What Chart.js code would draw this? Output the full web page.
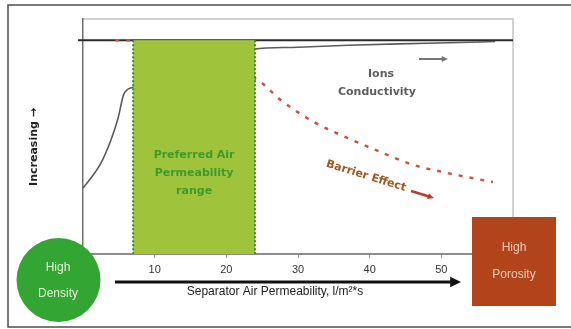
<!DOCTYPE html>
<html>
<head>
<meta charset="utf-8">
<script src="https://cdn.jsdelivr.net/npm/chart.js@4.4.1/dist/chart.umd.min.js"></script>
<style>
  html, body { margin: 0; padding: 0; background: #ffffff; }
  #wrap { width: 571px; height: 329px; position: relative; }
</style>
</head>
<body>
<div id="wrap"><canvas id="chart" width="571" height="329"></canvas></div>
<script>
// Separator air permeability (l/m²*s) on the x axis, relative level on the y axis
const xTickValues = [10, 20, 30, 40, 50];

// Ions conductivity curve
const ionsX = [0, 2.5, 3.9, 4.9, 5.7, 7, 12, 18, 23.8, 30, 37, 44, 51, 57.5];
const ionsY = [28, 38.7, 48.5, 57.9, 68, 71, 78, 84, 87.2, 88, 88.8, 89.4, 89.9, 90.4];

// Barrier effect curve
const barrierX = [4.5, 6, 10, 16, 24.4, 27.6, 32.2, 36.9, 41.5, 46.1, 50.8, 57.2];
const barrierY = [91, 91, 88, 82, 74, 65.5, 56.2, 49.4, 43.4, 37.9, 34.5, 30.6];

// Upper reference level
const topLineX = [-0.7, 60];
const topLineY = [91, 91];

// Preferred air permeability range
const preferredRange = [7, 24];
const preferredTop = 91;

const toPoints = (xs, ys) => xs.map((x, i) => ({ x: x, y: ys[i] }));

const SANS = "'Liberation Sans', Arial, sans-serif";
const NARROW = "'Liberation Sans Narrow', 'Liberation Sans', Arial, sans-serif";
const ROUND = "'DejaVu Sans', Verdana, sans-serif";

function arrow(ctx, x1, y1, x2, y2, color, width, head) {
  const a = Math.atan2(y2 - y1, x2 - x1);
  ctx.save();
  ctx.strokeStyle = color;
  ctx.fillStyle = color;
  ctx.lineWidth = width;
  ctx.beginPath();
  ctx.moveTo(x1, y1);
  ctx.lineTo(x2 - Math.cos(a) * head * 0.6, y2 - Math.sin(a) * head * 0.6);
  ctx.stroke();
  ctx.beginPath();
  ctx.moveTo(x2, y2);
  ctx.lineTo(x2 - Math.cos(a - 0.45) * head, y2 - Math.sin(a - 0.45) * head);
  ctx.lineTo(x2 - Math.cos(a + 0.45) * head, y2 - Math.sin(a + 0.45) * head);
  ctx.closePath();
  ctx.fill();
  ctx.restore();
}

const frame = {
  id: 'frame',
  beforeDraw(chart) {
    const ctx = chart.ctx;
    ctx.save();
    ctx.fillStyle = '#ffffff';
    ctx.fillRect(0, 0, chart.width, chart.height);
    ctx.strokeStyle = '#4d4d4d';
    ctx.lineWidth = 1.5;
    ctx.strokeRect(8, 5, chart.width + 10, 322);
    // plot box: top and right edges
    const a = chart.chartArea;
    ctx.strokeStyle = '#c4c4c4';
    ctx.lineWidth = 1.5;
    ctx.beginPath();
    ctx.moveTo(a.left, a.top);
    ctx.lineTo(a.right, a.top);
    ctx.lineTo(a.right, a.bottom);
    ctx.stroke();
    ctx.restore();
  }
};

const overlay = {
  id: 'overlay',
  afterDatasetsDraw(chart) {
    const ctx = chart.ctx;
    const xs = chart.scales.x, ys = chart.scales.y;
    const x0 = xs.getPixelForValue(preferredRange[0]);
    const x1 = xs.getPixelForValue(preferredRange[1]);
    const yT = ys.getPixelForValue(preferredTop);
    const yB = ys.getPixelForValue(0);
    ctx.save();
    // preferred range band
    ctx.fillStyle = '#9fc43c';
    ctx.fillRect(x0, yT, x1 - x0, yB - yT);
    ctx.strokeStyle = '#2f8f2a';
    ctx.lineWidth = 2;
    ctx.setLineDash([2, 2]);
    ctx.beginPath();
    ctx.moveTo(x0, yT); ctx.lineTo(x0, yB);
    ctx.moveTo(x1, yT); ctx.lineTo(x1, yB);
    ctx.stroke();
    ctx.setLineDash([]);
    ctx.fillStyle = '#3f9a2c';
    ctx.font = 'bold 11px ' + ROUND;
    ctx.textAlign = 'center';
    ctx.textBaseline = 'middle';
    const cx = (x0 + x1) / 2;
    ctx.fillText('Preferred Air', cx, 155);
    ctx.fillText('Permeability', cx, 173);
    ctx.fillText('range', cx, 191);

    // ions conductivity label
    ctx.fillStyle = '#5e5e5e';
    ctx.font = 'bold 11px ' + ROUND;
    ctx.fillText('Ions', 381, 74);
    ctx.fillText('Conductivity', 377, 92);
    arrow(ctx, 419, 59, 448, 59, '#777777', 2, 7);

    // barrier effect label
    ctx.save();
    ctx.translate(366, 176);
    ctx.rotate(0.3);
    ctx.fillStyle = '#a2561f';
    ctx.font = 'bold 11px ' + ROUND;
    ctx.fillText('Barrier Effect', 0, 0);
    ctx.restore();
    arrow(ctx, 411, 191, 434, 198, '#c0392b', 2.5, 7);

    // y axis caption
    ctx.save();
    ctx.translate(34, 147);
    ctx.rotate(-Math.PI / 2);
    ctx.fillStyle = '#222222';
    ctx.font = 'bold 11px ' + ROUND;
    ctx.fillText('Increasing \u2192', 0, 0);
    ctx.restore();

    // x axis arrow and caption
    arrow(ctx, 115, 282, 461, 282, '#111111', 3, 12);
    ctx.fillStyle = '#222222';
    ctx.font = '12px ' + NARROW;
    ctx.fillText('Separator Air Permeability, l/m\u00b2*s', 275, 292);

    // high density badge
    ctx.fillStyle = '#33a532';
    ctx.beginPath();
    ctx.arc(58.5, 280, 42, 0, Math.PI * 2);
    ctx.fill();
    ctx.fillStyle = '#e2f5d6';
    ctx.font = '12px ' + SANS;
    ctx.fillText('High', 58, 268);
    ctx.fillText('Density', 58, 294);

    // high porosity badge
    ctx.fillStyle = '#b1441b';
    ctx.fillRect(472, 217, 84, 89);
    ctx.fillStyle = '#f6cdb8';
    ctx.fillText('High', 514, 248);
    ctx.fillText('Porosity', 514, 275);
    ctx.restore();
  }
};

new Chart(document.getElementById('chart'), {
  type: 'line',
  data: {
    datasets: [
      {
        label: 'Barrier Effect',
        data: toPoints(barrierX, barrierY),
        borderColor: '#c8573a',
        borderWidth: 2.5,
        borderDash: [4, 7],
        pointRadius: 0,
        cubicInterpolationMode: 'monotone'
      },
      {
        label: 'Ions Conductivity',
        data: toPoints(ionsX, ionsY),
        borderColor: '#5a5a5a',
        borderWidth: 1.6,
        pointRadius: 0,
        cubicInterpolationMode: 'monotone'
      },
      {
        label: 'Reference',
        data: toPoints(topLineX, topLineY),
        borderColor: '#2b2b2b',
        borderWidth: 2,
        pointRadius: 0,
        clip: { left: 8, top: 0, right: 0, bottom: 0 }
      }
    ]
  },
  options: {
    responsive: false,
    animation: false,
    devicePixelRatio: 1,
    layout: { padding: { left: 0, right: 58, top: 19, bottom: 0 } },
    plugins: { legend: { display: false }, tooltip: { enabled: false } },
    scales: {
      x: {
        type: 'linear',
        min: 0,
        max: 60,
        afterBuildTicks: (s) => { s.ticks = xTickValues.map(v => ({ value: v })); },
        afterFit: (s) => { s.height = 75; },
        ticks: {
          color: '#333333',
          font: { family: NARROW, size: 11 },
          padding: 5,
          maxRotation: 0,
          autoSkip: false
        },
        grid: { drawOnChartArea: false, drawTicks: true, tickLength: 4, color: '#9a9a9a' },
        border: { display: true, color: '#8c8c8c', width: 2 }
      },
      y: {
        type: 'linear',
        min: 0,
        max: 100,
        afterFit: (s) => { s.width = 83; },
        ticks: { display: false },
        grid: { drawOnChartArea: false, drawTicks: false },
        border: { display: true, color: '#707070', width: 1.5 }
      }
    }
  },
  plugins: [frame, overlay]
});
</script>
</body>
</html>
